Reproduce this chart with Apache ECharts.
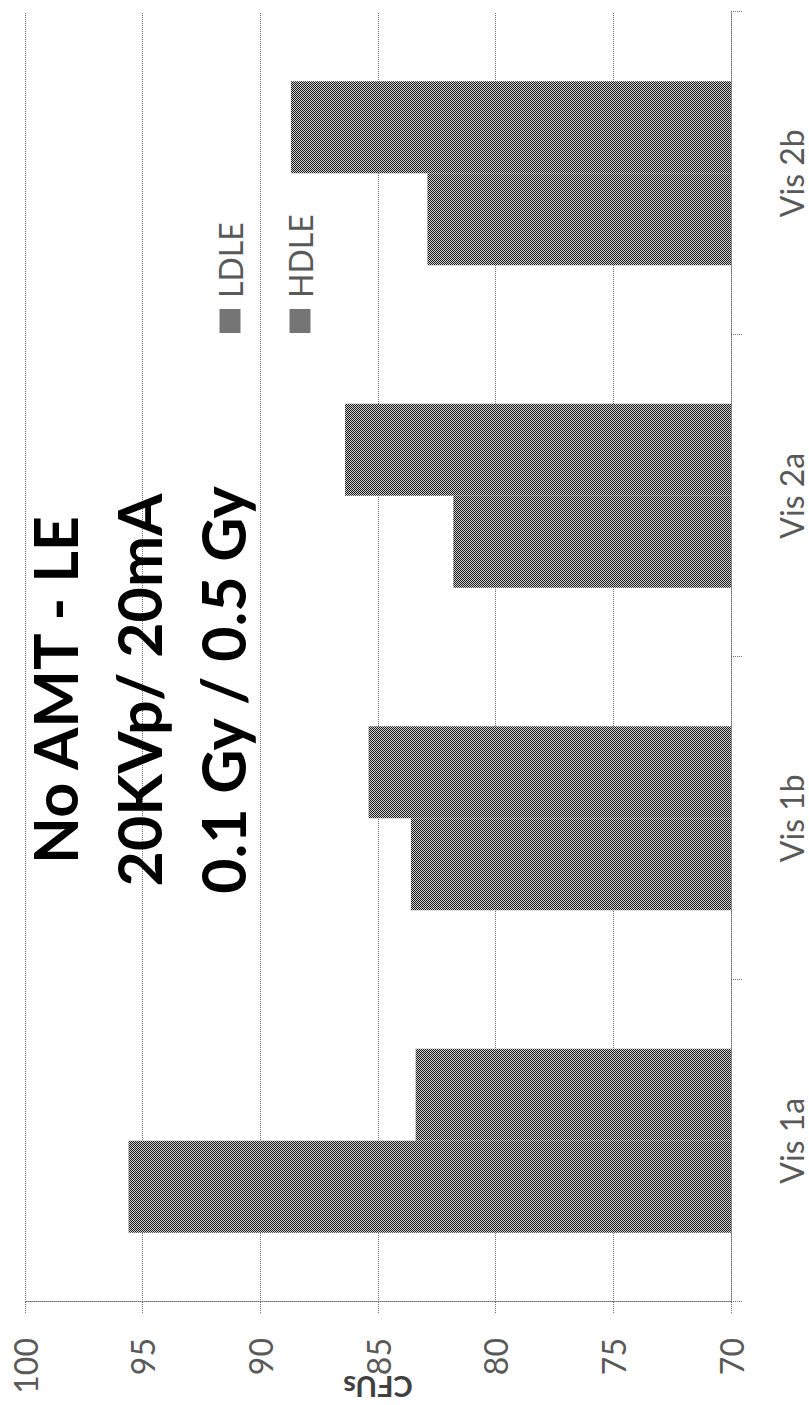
<!DOCTYPE html>
<html><head><meta charset="utf-8">
<script src="https://cdn.jsdelivr.net/npm/echarts@6/dist/echarts.min.js"></script>
<style>
html,body{margin:0;padding:0;width:809px;height:1405px;overflow:hidden;background:#fff;}
#wrap{position:absolute;left:0;top:0;width:1405px;height:809px;transform-origin:0 0;transform:translateY(1405px) rotate(-90deg);}
</style></head><body>
<div id="wrap"></div>
<script>
// ---- data ----
const categories = ['Vis 1a', 'Vis 1b', 'Vis 2a', 'Vis 2b'];
const ldleValues = [95.6, 83.6, 81.8, 82.9];
const hdleValues = [83.4, 85.4, 86.4, 88.7];
const seriesNames = ['LDLE', 'HDLE'];
const valueMin = 70, valueMax = 100, valueStep = 5;
const titleLines = ['No AMT - LE', '20KVp/ 20mA', '0.1 Gy / 0.5 Gy'];
const valueAxisName = 'CFUs';

// dithered gray fill like the reference
function checker() {
  const c = document.createElement('canvas');
  c.width = 2; c.height = 2;
  const g = c.getContext('2d');
  g.fillStyle = '#d0d0d0'; g.fillRect(0, 0, 2, 2);
  g.fillStyle = '#1a1a1a'; g.fillRect(0, 0, 1, 1); g.fillRect(1, 1, 1, 1);
  return c;
}
const fill = { image: checker(), repeat: 'repeat', imageWidth: 2, imageHeight: 2 };

const chart = echarts.init(document.getElementById('wrap'), null, { renderer: 'svg', width: 1405, height: 809 });
const dotted = { type: 'dotted', color: '#6e6e6e', width: 1 };
chart.setOption({
  animation: false,
  backgroundColor: '#ffffff',
  title: {
    text: titleLines.join('\n'),
    left: 715, top: 12, textAlign: 'center', padding: 0,
    textStyle: { fontFamily: 'Lato', fontWeight: 'bold', fontSize: 61, lineHeight: 84, color: '#000000' }
  },
  legend: {
    data: seriesNames,
    orient: 'vertical',
    left: 1072, top: 214, padding: 0,
    icon: 'rect',
    itemWidth: 24, itemHeight: 21, itemGap: 38,
    textStyle: { fontFamily: 'Lato', fontSize: 32, lineHeight: 32, color: '#595959', padding: [0, 0, 0, 6] }
  },
  grid: { left: 103, right: 12, top: 25, bottom: 78, containLabel: false, outerBoundsMode: 'none' },
  xAxis: {
    type: 'category',
    data: categories,
    axisLine: { show: true, lineStyle: dotted },
    axisTick: { show: true, length: 11, lineStyle: dotted },
    axisLabel: { margin: 44, fontFamily: 'Lato', fontSize: 32, color: '#595959' },
    splitLine: { show: false }
  },
  yAxis: {
    type: 'value',
    min: valueMin, max: valueMax, interval: valueStep,
    name: valueAxisName,
    nameLocation: 'middle', nameRotate: 90, nameGap: 70,
    nameMoveOverlap: false,
    nameTextStyle: { fontFamily: 'Lato', fontWeight: 'bold', fontSize: 29, lineHeight: 30, color: '#404040' },
    axisLine: { show: true, lineStyle: dotted },
    axisTick: { show: true, length: 12, lineStyle: dotted },
    axisLabel: { margin: 36, fontFamily: 'Lato', fontSize: 32, color: '#595959' },
    splitLine: { show: true, lineStyle: dotted }
  },
  series: [
    { name: seriesNames[0], type: 'bar', data: ldleValues, barGap: '0%', barCategoryGap: '43%', itemStyle: { color: fill } },
    { name: seriesNames[1], type: 'bar', data: hdleValues, barGap: '0%', barCategoryGap: '43%', itemStyle: { color: fill } }
  ]
});
</script>
</body></html>
